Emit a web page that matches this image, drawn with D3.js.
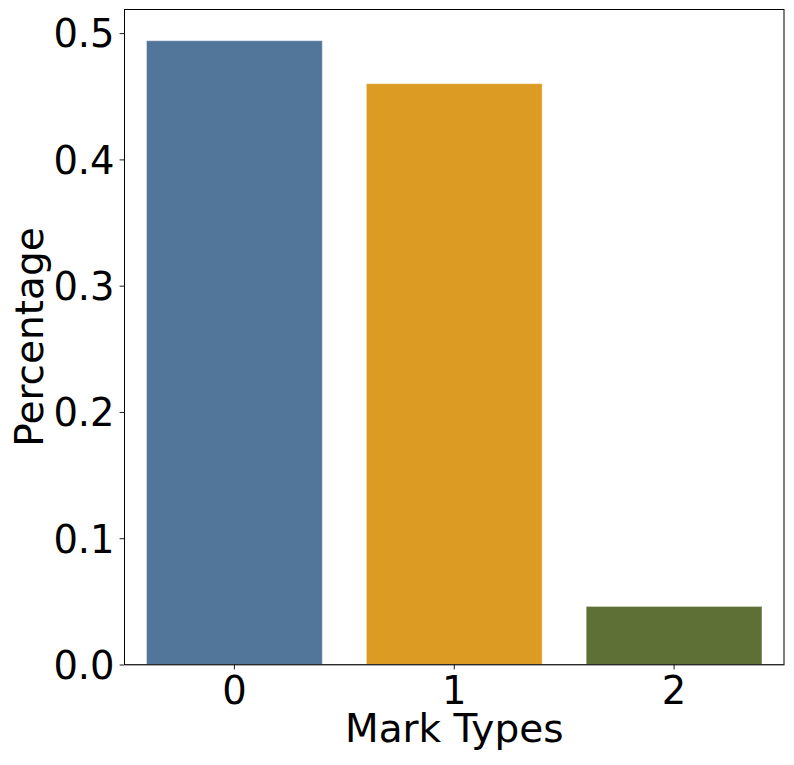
<!DOCTYPE html>
<html>
<head>
<meta charset="utf-8">
<script src="https://cdn.jsdelivr.net/npm/d3@7"></script>
<style>
  html, body { margin: 0; padding: 0; background: #fff; }
  svg { display: block; }
  text { font-family: "DejaVu Sans", sans-serif; fill: #000; }
</style>
</head>
<body>
<svg id="chart" width="794" height="765"></svg>
<script>
const categories = ["0", "1", "2"];
const percentages = [0.494, 0.460, 0.046];
const barColors = ["#52769a", "#dc9c23", "#5e7036"];
const yTicks = [0.0, 0.1, 0.2, 0.3, 0.4, 0.5];
const xTitle = "Mark Types";
const yTitle = "Percentage";

const svg = d3.select("#chart");
const mLeft = 124.5, mRight = 784, mTop = 9.5, mBottom = 664.5;

const x = d3.scaleBand().domain(categories).range([mLeft, mRight]).paddingInner(0.2).paddingOuter(0.1);
const y = d3.scaleLinear().domain([0, d3.max(percentages) * 1.05]).range([mBottom, mTop]);

// bars
svg.append("g").selectAll("rect").data(categories).join("rect")
  .attr("x", d => x(d))
  .attr("width", x.bandwidth())
  .attr("y", (d, i) => y(percentages[i]))
  .attr("height", (d, i) => y(0) - y(percentages[i]))
  .attr("fill", (d, i) => barColors[i])
  .attr("stroke", "rgba(255,255,255,0.45)")
  .attr("stroke-width", 1);

// frame
svg.append("rect")
  .attr("x", mLeft).attr("y", mTop)
  .attr("width", mRight - mLeft).attr("height", mBottom - mTop)
  .attr("fill", "none").attr("stroke", "#000").attr("stroke-width", 1);

// y axis
const yAxis = d3.axisLeft(y).tickValues(yTicks).tickFormat(d3.format(".1f")).tickSize(4.9).tickPadding(5);
const gy = svg.append("g").attr("transform", `translate(${mLeft},0)`).call(yAxis);
gy.select(".domain").remove();
gy.selectAll(".tick line").attr("stroke", "#000").attr("stroke-width", 0.9);
gy.selectAll(".tick text").attr("font-size", 38.5).attr("font-family", "DejaVu Sans").attr("fill", "#000")
  .attr("dy", "0.36em");

// x axis
const xAxis = d3.axisBottom(x).tickSize(4.9).tickSizeOuter(0).tickPadding(5);
const gx = svg.append("g").attr("transform", `translate(0,${mBottom})`).call(xAxis);
gx.select(".domain").attr("stroke", "#555").attr("stroke-width", 1.2);
gx.selectAll(".tick line").attr("stroke", "#000").attr("stroke-width", 0.9);
gx.selectAll(".tick text").attr("font-size", 38.5).attr("font-family", "DejaVu Sans").attr("fill", "#000")
  .attr("dy", null).attr("y", 703.5 - mBottom).attr("dominant-baseline", "auto");

// titles
svg.append("text").attr("x", (mLeft + mRight) / 2).attr("y", 742)
  .attr("text-anchor", "middle").attr("font-size", 39).text(xTitle);
svg.append("text").attr("transform", `translate(43,${(mTop + mBottom) / 2}) rotate(-90)`)
  .attr("text-anchor", "middle").attr("font-size", 39).text(yTitle);
</script>
</body>
</html>
